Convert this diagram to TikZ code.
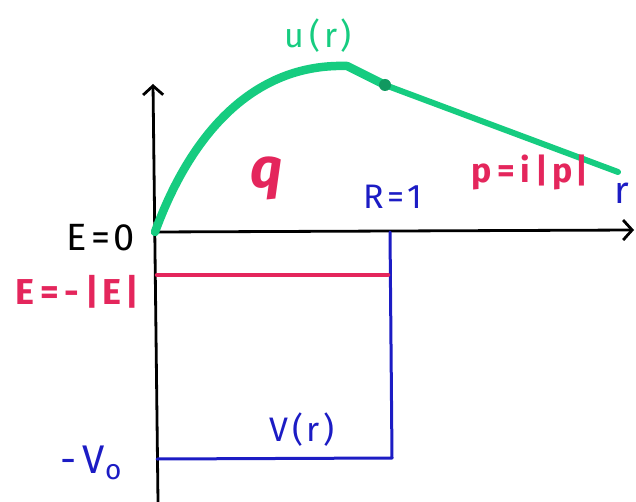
\documentclass[tikz,border=0pt]{standalone}
\usepackage{fontspec}
\setmainfont{Fira Sans}[LetterSpace=10]
\usepackage{xcolor}
\usetikzlibrary{positioning, arrows, arrows.meta}

\definecolor{wavegreen}{RGB}{22,204,128}
\definecolor{levelred}{RGB}{228,38,92}
\definecolor{wellblue}{RGB}{28,28,196}

\tikzset{
    axis/.style={line width=2.8pt, black},
    tip/.style={-{Straight Barb[length=9pt, width=20pt, line width=2.8pt]}},
    wave/.style={line width=8.5pt, wavegreen},
    well/.style={line width=3pt, wellblue},
    level/.style={line width=4.5pt, levelred},
    lbl/.style={inner sep=0pt, font=\fontsize{#1}{#1}\selectfont},
    boldlbl/.style={inner sep=0pt, font=\fontsize{#1}{#1}\selectfont\bfseries},
    slantlbl/.style={inner sep=0pt, font=\fontsize{#1}{#1}\selectfont\bfseries\itshape},
}

\begin{document}
\begin{tikzpicture}[x=1pt, y=-1pt, line cap=round, line join=round]
    \useasboundingbox (0,0) rectangle (636,502);

    % axes
    \coordinate (O) at (155,232);
    \coordinate (ytop) at (153,84);
    \coordinate (ybot) at (158,502);
    \coordinate (xend) at (634,230);
    \draw[axis, tip] (ybot) -- (ytop);
    \draw[axis, tip] (O) -- (xend);

    % square well
    \coordinate (Rtop) at (390,232);
    \coordinate (Rbot) at (392,458);
    \coordinate (V0) at (157,459);
    \draw[well] (Rtop) -- (Rbot) -- (V0);

    % bound state level
    \coordinate (Eleft) at (157,275);
    \coordinate (Eright) at (388,275);
    \draw[level] (Eleft) -- (Eright);

    % wave function
    \coordinate (top) at (347,66);
    \coordinate (kink) at (385,85);
    \coordinate (tail) at (618,172);
    \draw[wave] (O) .. controls (190,136) and (252,63) .. (top) -- (kink);
    \draw[wave, line width=6pt] (kink) -- (tail);
    \fill[wavegreen!75!black] (kink) circle (6pt);

    % labels
    \node[lbl=38, black] (E0) at (101,238) {E=0};
    \node[boldlbl=36, levelred] (Eneg) at (77,292) {E\,=\,-\,|E|};
    \node[lbl=40, wellblue] (V0lbl) at (91,463) {-\,V\textsubscript{o}};
    \node[lbl=34, wellblue] (Vr) at (302,430) {V(r)};
    \node[lbl=34, wellblue] (R) at (393,197) {R=1};
    \node[lbl=38, wellblue] (r) at (622,193) {r};
    \node[boldlbl=34, levelred] (p) at (530,172) {p\,=\,i\,|p|};
    \node[slantlbl=56, levelred] (q) at (267,178) {q};
    \node[lbl=34, wavegreen] (u) at (318,36) {u\,(r)};
\end{tikzpicture}
\end{document}
